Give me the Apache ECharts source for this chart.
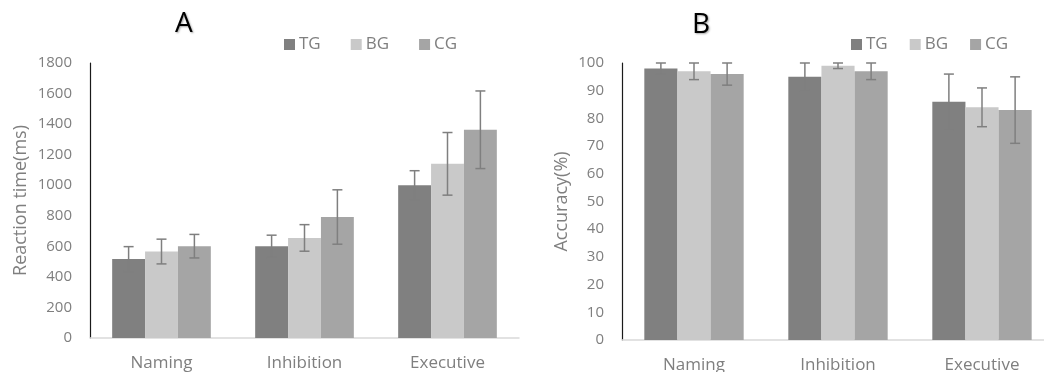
<!DOCTYPE html>
<html>
<head>
<meta charset="utf-8">
<script src="https://cdn.jsdelivr.net/npm/echarts@6/dist/echarts.min.js"></script>
<style>html,body{margin:0;padding:0;background:#fff}#c{width:1044px;height:372px}</style>
</head>
<body>
<div id="c"></div>
<script>
const categories = ['Naming', 'Inhibition', 'Executive'];
const groups = ['TG', 'BG', 'CG'];
const colors = ['#808080', '#c9c9c9', '#a5a5a5'];

// Panel A: reaction time (ms)
const rtTG = [517, 600, 1000];
const rtBG = [566, 655, 1140];
const rtCG = [601, 792, 1363];
const rtTGErr = [81, 73, 95];
const rtBGErr = [81, 87, 205];
const rtCGErr = [77, 178, 254];
const rtTicks = [0, 200, 400, 600, 800, 1000, 1200, 1400, 1600, 1800];

// Panel B: accuracy (%)
const accTG = [98, 95, 86];
const accBG = [97, 99, 84];
const accCG = [96, 97, 83];
const accTGErr = [2, 5, 10];
const accBGErr = [3, 1, 7];
const accCGErr = [4, 3, 12];
const accTicks = [0, 10, 20, 30, 40, 50, 60, 70, 80, 90, 100];

const FONT = 'Open Sans';
const GRAY = '#7f7f7f';
const CATGAP = 0.31;

function errData(vals, errs) {
  return vals.map((v, i) => [i, v - errs[i], v + errs[i]]);
}

function errSeries(vals, errs, k, gi) {
  return {
    type: 'custom',
    xAxisIndex: gi, yAxisIndex: gi,
    data: errData(vals, errs),
    encode: { x: 0, y: [1, 2] },
    z: 10,
    silent: true,
    renderItem: function (params, api) {
      const xi = api.value(0);
      const lo = api.coord([xi, api.value(1)]);
      const hi = api.coord([xi, api.value(2)]);
      const band = api.size([1, 0])[0];
      const bw = band * (1 - CATGAP) / 3;
      const x = lo[0] + (k - 1) * bw;
      const cap = 5;
      const st = { stroke: GRAY, lineWidth: 1.5 };
      return {
        type: 'group',
        children: [
          { type: 'line', shape: { x1: x, y1: lo[1], x2: x, y2: hi[1] }, style: st },
          { type: 'line', shape: { x1: x - cap, y1: lo[1], x2: x + cap, y2: lo[1] }, style: st },
          { type: 'line', shape: { x1: x - cap, y1: hi[1], x2: x + cap, y2: hi[1] }, style: st }
        ]
      };
    }
  };
}

function barSeries(name, vals, k, gi) {
  return {
    name: name, type: 'bar',
    xAxisIndex: gi, yAxisIndex: gi,
    data: vals,
    barGap: '0%', barCategoryGap: (CATGAP * 100) + '%',
    itemStyle: { color: colors[k] },
    silent: true
  };
}

function yAxisCfg(gi, ticks, name, gap) {
  return {
    type: 'value', gridIndex: gi,
    min: ticks[0], max: ticks[ticks.length - 1],
    interval: ticks[1] - ticks[0],
    name: name, nameLocation: 'middle', nameGap: gap, nameRotate: 90,
    nameTextStyle: { color: GRAY, fontSize: 18, fontFamily: FONT },
    axisLine: { show: true, lineStyle: { color: '#1a1a1a', width: 1.2 } },
    axisTick: { show: false },
    splitLine: { show: false },
    axisLabel: { color: GRAY, fontSize: 15, fontFamily: FONT, margin: 18, formatter: v => String(v) }
  };
}

function xAxisCfg(gi) {
  return {
    type: 'category', gridIndex: gi, data: categories,
    axisLine: { lineStyle: { color: '#d9d9d9', width: 1.5 } },
    axisTick: { show: false },
    axisLabel: { color: GRAY, fontSize: 17, fontFamily: FONT, margin: 17 }
  };
}

const titleStyle = { fontFamily: FONT, fontSize: 28, fontWeight: 'normal', color: '#000', textShadowColor: 'rgba(0,0,0,0.35)', textShadowBlur: 2, textShadowOffsetX: 1, textShadowOffsetY: 1 };
const legendText = { color: GRAY, fontSize: 17, fontFamily: FONT, padding: [0, 0, 0, -1] };

const chart = echarts.init(document.getElementById('c'), null, { renderer: 'canvas' });
chart.setOption({
  animation: false,
  backgroundColor: '#fff',
  title: [
    { text: 'A', left: 175, top: 10, padding: 0, textStyle: titleStyle },
    { text: 'B', left: 692, top: 11, padding: 0, textStyle: titleStyle }
  ],
  legend: [
    { data: groups, left: 284, top: 36, padding: 0, icon: 'rect', itemWidth: 11, itemHeight: 11, itemGap: 30, textStyle: legendText },
    { data: groups, left: 851, top: 36, padding: 0, icon: 'rect', itemWidth: 11, itemHeight: 11, itemGap: 22, textStyle: legendText }
  ],
  grid: [
    { left: 90, top: 63, width: 429, height: 275, containLabel: false, outerBoundsMode: 'none' },
    { left: 622, top: 63, width: 432, height: 277, containLabel: false, outerBoundsMode: 'none' }
  ],
  xAxis: [xAxisCfg(0), xAxisCfg(1)],
  yAxis: [yAxisCfg(0, rtTicks, 'Reaction time(ms)', 60), yAxisCfg(1, accTicks, 'Accuracy(%)', 51)],
  series: [
    barSeries('TG', rtTG, 0, 0), barSeries('BG', rtBG, 1, 0), barSeries('CG', rtCG, 2, 0),
    barSeries('TG', accTG, 0, 1), barSeries('BG', accBG, 1, 1), barSeries('CG', accCG, 2, 1),
    errSeries(rtTG, rtTGErr, 0, 0), errSeries(rtBG, rtBGErr, 1, 0), errSeries(rtCG, rtCGErr, 2, 0),
    errSeries(accTG, accTGErr, 0, 1), errSeries(accBG, accBGErr, 1, 1), errSeries(accCG, accCGErr, 2, 1)
  ]
});
</script>
</body>
</html>
